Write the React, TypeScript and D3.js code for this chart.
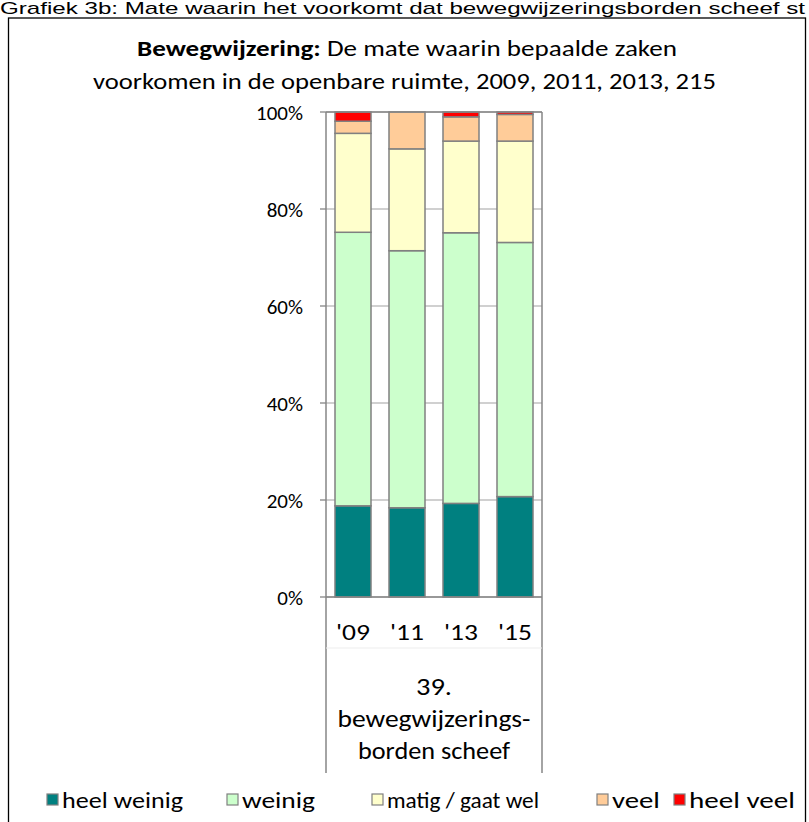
import * as d3 from 'd3';

const years = ["'09", "'11", "'13", "'15"];
const seriesNames = ['heel weinig', 'weinig', 'matig / gaat wel', 'veel', 'heel veel'];
const heelWeinig = [18.8, 18.4, 19.3, 20.7];
const weinig = [56.4, 53.0, 55.8, 52.4];
const matig = [20.4, 21.0, 18.9, 20.9];
const veel = [2.5, 7.6, 5.0, 5.5];
const heelVeel = [1.9, 0.0, 1.0, 0.5];
const yTicks = [0, 20, 40, 60, 80, 100];
const groupLabel = ['39.', 'bewegwijzerings-', 'borden scheef'];

const colors = ['#008080', '#CCFFCC', '#FFFFCC', '#FFCC99', '#FF0000'];
const FONT = "Carlito, Calibri, 'Liberation Sans', Arial, sans-serif";

export default function App() {
  const W = 809;
  const H = 822;
  const left = 326;
  const right = 542;
  const top = 112;
  const bottom = 597;

  const rows = years.map((yr, i) => ({
    year: yr,
    'heel weinig': heelWeinig[i],
    weinig: weinig[i],
    'matig / gaat wel': matig[i],
    veel: veel[i],
    'heel veel': heelVeel[i],
  }));
  const stacked = d3.stack<any>().keys(seriesNames)(rows);

  const x = d3
    .scaleBand<string>()
    .domain(years)
    .range([left, right])
    .paddingInner(1 / 3)
    .paddingOuter(1 / 6);
  const y = d3.scaleLinear().domain([0, 100]).range([bottom, top]);

  const legendX = [47, 227, 372, 597, 674];
  const legendW = [121, 73, 152, 48, 106];
  const groupW = [36, 193, 152];

  return (
    <svg
      width={W}
      height={H}
      viewBox={`0 0 ${W} ${H}`}
      style={{ position: 'absolute', left: 0, top: 0, background: '#fff' }}
      fontFamily={FONT}
    >
      <text
        x={0}
        y={14}
        fontFamily="'Liberation Sans', Arial, sans-serif"
        fontSize={17}
        textLength={805}
        lengthAdjust="spacingAndGlyphs"
        fill="#000"
      >
        Grafiek 3b: Mate waarin het voorkomt dat bewegwijzeringsborden scheef st
      </text>
      <rect x={8.5} y={18} width={797} height={830} fill="none" stroke="#000" strokeWidth={1.3} />

      {/* title */}
      <text x={137} y={56} fontSize={23} textLength={540} lengthAdjust="spacingAndGlyphs" fill="#000">
        <tspan fontWeight="bold">Bewegwijzering:</tspan>
        <tspan> De mate waarin bepaalde zaken</tspan>
      </text>
      <text x={93} y={89} fontSize={23} textLength={623} lengthAdjust="spacingAndGlyphs" fill="#000">
        voorkomen in de openbare ruimte, 2009, 2011, 2013, 215
      </text>

      {/* gridlines */}
      {yTicks.map((t) => (
        <g key={t}>
          <line x1={left} x2={right} y1={y(t)} y2={y(t)} stroke="#C0C0C0" strokeWidth={1.3} />
          <line x1={left - 6} x2={left} y1={y(t)} y2={y(t)} stroke="#868686" strokeWidth={1.3} />
          <text x={303} y={y(t) + 7.5} textAnchor="end" fontSize={21} fill="#000">
            {t}%
          </text>
        </g>
      ))}

      {/* bars */}
      {stacked.map((s, si) => (
        <g key={s.key}>
          {s.map((d, i) =>
            d[1] - d[0] > 0 ? (
              <rect
                key={i}
                x={x(years[i])}
                width={x.bandwidth()}
                y={y(d[1])}
                height={y(d[0]) - y(d[1])}
                fill={colors[si]}
                stroke="#808080"
                strokeWidth={1.5}
              />
            ) : null,
          )}
        </g>
      ))}

      {/* plot frame */}
      <line x1={left} x2={right} y1={top} y2={top} stroke="#868686" strokeWidth={1.5} />
      <line x1={left} x2={right} y1={bottom} y2={bottom} stroke="#868686" strokeWidth={1.5} />
      <line x1={left} x2={left} y1={top} y2={773} stroke="#868686" strokeWidth={1.5} />
      <line x1={right} x2={right} y1={top} y2={773} stroke="#868686" strokeWidth={1.5} />
      <line x1={left} x2={right} y1={648} y2={648} stroke="#EDEDED" strokeWidth={1} />

      {/* category labels */}
      {years.map((yr) => (
        <text
          key={yr}
          x={(x(yr) ?? 0) + x.bandwidth() / 2}
          y={640}
          textAnchor="middle"
          fontSize={23}
          textLength={34}
          lengthAdjust="spacingAndGlyphs"
          fill="#000"
        >
          {yr}
        </text>
      ))}
      {groupLabel.map((l, i) => (
        <text
          key={l}
          x={(left + right) / 2}
          y={695 + i * 32}
          textAnchor="middle"
          fontSize={24}
          textLength={groupW[i]}
          lengthAdjust="spacingAndGlyphs"
          fill="#000"
        >
          {l}
        </text>
      ))}

      {/* legend */}
      {seriesNames.map((n, i) => (
        <g key={n}>
          <rect
            x={legendX[i]}
            y={794}
            width={11}
            height={11}
            fill={colors[i]}
            stroke="#808080"
            strokeWidth={1.2}
          />
          <text
            x={legendX[i] + 15}
            y={808}
            fontSize={23}
            textLength={legendW[i]}
            lengthAdjust="spacingAndGlyphs"
            fill="#000"
          >
            {n}
          </text>
        </g>
      ))}
    </svg>
  );
}
